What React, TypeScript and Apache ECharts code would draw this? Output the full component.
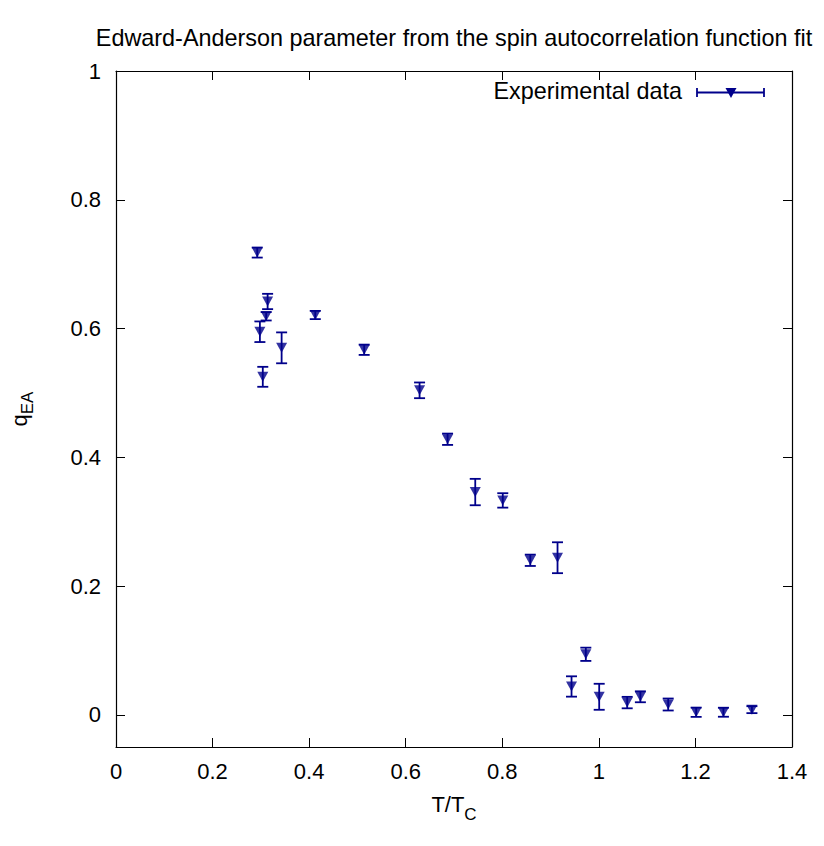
import React, { useEffect, useRef } from "react";
import * as echarts from "echarts";

const temperatures = [0.2925, 0.298, 0.304, 0.311, 0.314, 0.343, 0.4127, 0.514, 0.6287, 0.6867, 0.744, 0.801, 0.858, 0.9144, 0.9434, 0.973, 1.0007, 1.0587, 1.086, 1.1436, 1.2015, 1.258, 1.317];
const qValues = [0.718, 0.595, 0.525, 0.619, 0.642, 0.57, 0.621, 0.567, 0.504, 0.428, 0.346, 0.333, 0.24, 0.244, 0.044, 0.094, 0.028, 0.019, 0.028, 0.016, 0.004, 0.004, 0.008];
const qErrors = [0.0078, 0.016, 0.0155, 0.0065, 0.0119, 0.024, 0.0064, 0.008, 0.0122, 0.0088, 0.0205, 0.0112, 0.0088, 0.024, 0.0158, 0.0103, 0.0202, 0.0089, 0.0085, 0.0093, 0.0072, 0.007, 0.0054];
const yTicks = [0, 0.2, 0.4, 0.6, 0.8, 1];

const COLOR = "#00008B";
const FONT = "Liberation Sans, Arial, sans-serif";
const TRI = "path://M0,0L10,0L5,9Z";

export default function App() {
  const ref = useRef<HTMLDivElement>(null);
  useEffect(() => {
    if (!ref.current) return;
    const chart = echarts.init(ref.current, null, { renderer: "svg" });
    const errData = temperatures.map((t, i) => [t, qValues[i], qValues[i] - qErrors[i], qValues[i] + qErrors[i]]);
    const ptData = temperatures.map((t, i) => [t, qValues[i]]);
    const fmt = (v: number) => String(Math.round(v * 10) / 10);
    const commonTick = { show: true, inside: true, length: 9, lineStyle: { color: "#000", width: 1 } };
    const axisLine = { show: true, onZero: false, lineStyle: { color: "#000", width: 1.2 } };
    chart.setOption({
      animation: false,
      backgroundColor: "#fff",
      textStyle: { fontFamily: FONT },
      title: {
        text: "Edward-Anderson parameter from the spin autocorrelation function fit",
        left: 449,
        top: 21,
        textAlign: "center",
        textStyle: { fontFamily: FONT, fontSize: 23.4, fontWeight: "normal", color: "#000" },
      },
      grid: { left: 116, top: 71, right: 32, bottom: 99, containLabel: false, outerBoundsMode: "none" },
      xAxis: [
        {
          type: "value", min: 0, max: 1.4, interval: 0.2, position: "bottom",
          axisLine, axisTick: commonTick, splitLine: { show: false },
          axisLabel: { formatter: fmt, fontSize: 22, color: "#000", margin: 13, fontFamily: FONT },
          name: "T/T{sub|C}", nameLocation: "middle", nameGap: 38,
          nameTextStyle: {
            fontSize: 22, color: "#000", fontFamily: FONT,
            rich: { sub: { fontSize: 17, fontFamily: FONT, color: "#000", verticalAlign: "bottom", lineHeight: 38 } },
          },
        },
        {
          type: "value", min: 0, max: 1.4, interval: 0.2, position: "top",
          axisLine, axisTick: commonTick, axisLabel: { show: false }, splitLine: { show: false },
        },
      ],
      yAxis: [
        {
          type: "value", min: -0.05, max: 1, position: "left",
          axisLine, splitLine: { show: false },
          axisTick: { ...commonTick, customValues: yTicks },
          axisLabel: { customValues: yTicks, formatter: fmt, fontSize: 22, color: "#000", margin: 15, fontFamily: FONT },
          name: "q{sub|EA}", nameLocation: "middle", nameGap: 80, nameRotate: 90,
          nameTextStyle: {
            fontSize: 22, color: "#000", fontFamily: FONT,
            rich: { sub: { fontSize: 17, fontFamily: FONT, color: "#000", verticalAlign: "bottom", lineHeight: 34 } },
          },
        },
        {
          type: "value", min: -0.05, max: 1, position: "right",
          axisLine, splitLine: { show: false },
          axisTick: { ...commonTick, customValues: yTicks },
          axisLabel: { show: false },
        },
      ],
      series: [
        {
          type: "custom",
          xAxisIndex: 0, yAxisIndex: 0,
          data: errData,
          encode: { x: 0, y: [1, 2, 3] },
          renderItem: (params: any, api: any) => {
            const x = api.value(0);
            const lo = api.coord([x, api.value(2)]);
            const hi = api.coord([x, api.value(3)]);
            const hw = 5.5;
            const style = { stroke: COLOR, lineWidth: 1.8 };
            return {
              type: "group",
              children: [
                { type: "line", shape: { x1: lo[0], y1: lo[1], x2: hi[0], y2: hi[1] }, style },
                { type: "line", shape: { x1: lo[0] - hw, y1: lo[1], x2: lo[0] + hw, y2: lo[1] }, style },
                { type: "line", shape: { x1: hi[0] - hw, y1: hi[1], x2: hi[0] + hw, y2: hi[1] }, style },
              ],
            };
          },
          z: 2,
        },
        {
          type: "scatter",
          name: "Experimental data",
          data: ptData,
          symbol: TRI,
          symbolSize: [11, 10],
          itemStyle: { color: COLOR },
          z: 3,
        },
      ],
      graphic: [
        {
          type: "text", right: 824 - 682, top: 79,
          style: { text: "Experimental data", fontSize: 23.4, fontFamily: FONT, fill: "#000" },
        },
        { type: "line", shape: { x1: 697, y1: 92.5, x2: 764, y2: 92.5 }, style: { stroke: COLOR, lineWidth: 1.8 } },
        { type: "line", shape: { x1: 697, y1: 88, x2: 697, y2: 97 }, style: { stroke: COLOR, lineWidth: 1.8 } },
        { type: "line", shape: { x1: 764, y1: 88, x2: 764, y2: 97 }, style: { stroke: COLOR, lineWidth: 1.8 } },
        { type: "polygon", shape: { points: [[725.5, 88], [736.5, 88], [731, 98]] }, style: { fill: COLOR } },
      ],
    });
    return () => chart.dispose();
  }, []);
  return <div ref={ref} style={{ position: "fixed", left: 0, top: 0, width: 824, height: 846, background: "#fff" }} />;
}
